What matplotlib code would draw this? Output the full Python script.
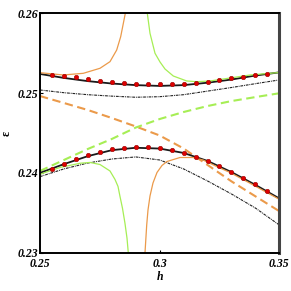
import matplotlib
matplotlib.use("Agg")
import matplotlib.pyplot as plt

# ---- data ----
h_dots = [0.255, 0.26, 0.265, 0.27, 0.275, 0.28, 0.285, 0.29, 0.295, 0.30,
          0.305, 0.31, 0.315, 0.32, 0.325, 0.33, 0.335, 0.34, 0.345]
upper_dots = [0.25227, 0.25214, 0.25198, 0.25177, 0.25155, 0.25135, 0.25123, 0.25114, 0.25110, 0.25110,
              0.25114, 0.25118, 0.25130, 0.25139, 0.25164, 0.25185, 0.25206, 0.25223, 0.25239]
lower_dots = [0.24049, 0.24115, 0.24171, 0.24224, 0.24262, 0.24300, 0.24316, 0.24328, 0.24328, 0.24315,
              0.24287, 0.24253, 0.24203, 0.24153, 0.24090, 0.24015, 0.23933, 0.23861, 0.23773]

h_grid = [0.25, 0.26, 0.27, 0.28, 0.29, 0.30, 0.31, 0.32, 0.33, 0.34, 0.35]
upper_exact = [0.2524, 0.2519, 0.2515, 0.2512, 0.2510, 0.2509, 0.2510, 0.2513, 0.2517, 0.2522, 0.2526]
lower_exact = [0.2400, 0.2411, 0.2421, 0.24285, 0.24315, 0.24305, 0.2425, 0.2415, 0.2401, 0.2385, 0.2368]
upper_dashdot = [0.25039, 0.25005, 0.24980, 0.24962, 0.24948, 0.24955, 0.24980, 0.25025, 0.25070, 0.25118, 0.25165]
lower_dashdot = [0.23953, 0.24050, 0.24124, 0.24174, 0.24200, 0.24162, 0.24050, 0.23899, 0.23736, 0.23560, 0.23347]
orange_dashed = [0.24963, 0.24876, 0.24788, 0.24688, 0.24582, 0.24469, 0.24306, 0.24100, 0.23894, 0.23707, 0.23520]
green_dashed = [0.24024, 0.24162, 0.24300, 0.24425, 0.24568, 0.24675, 0.24763, 0.24838, 0.24900, 0.24950, 0.24998]

# thin perturbative branches
orange_up_h = [0.25, 0.25974, 0.2681, 0.27507, 0.27925, 0.28205, 0.28372, 0.28510, 0.28565]
orange_up_e = [0.25256, 0.25227, 0.25248, 0.25311, 0.25394, 0.25540, 0.25707, 0.25916, 0.26000]
orange_lo_h = [0.29388, 0.29459, 0.29513, 0.29597, 0.29722, 0.29889, 0.30098, 0.30307, 0.30850,
               0.31394, 0.31812, 0.32384, 0.32941, 0.33777, 0.35]
orange_lo_e = [0.23000, 0.23347, 0.23535, 0.23711, 0.23874, 0.24005, 0.24093, 0.24143, 0.24193,
               0.24193, 0.24162, 0.24080, 0.24005, 0.23870, 0.23669]
green_up_h = [0.29484, 0.29597, 0.29806, 0.30015, 0.30224, 0.30571, 0.31131, 0.31549, 0.32105,
              0.32941, 0.33777, 0.35]
green_up_e = [0.26000, 0.25749, 0.25499, 0.25390, 0.25302, 0.25214, 0.25152, 0.25143, 0.25152,
              0.25189, 0.25227, 0.25258]
green_lo_h = [0.25, 0.25836, 0.26672, 0.2709, 0.27507, 0.27925, 0.28134, 0.2826, 0.28343,
              0.28448, 0.2855, 0.28636, 0.28689]
green_lo_e = [0.23983, 0.24068, 0.24121, 0.24131, 0.24105, 0.24024, 0.23918, 0.23830, 0.23705,
              0.23555, 0.23370, 0.23182, 0.23000]

x_ticks = [0.25, 0.30, 0.35]
x_ticklabels = ["0.25", "0.3", "0.35"]
y_ticks = [0.23, 0.24, 0.25, 0.26]
y_ticklabels = ["0.23", "0.24", "0.25", "0.26"]

ORANGE = "#EB9A4A"
GREEN = "#A6EE55"

fig = plt.figure(figsize=(2.91, 2.91), dpi=100)
ax = fig.add_axes([40 / 291, 1 - 252.7 / 291, 239.3 / 291, 239.4 / 291])

ax.plot(h_grid, orange_dashed, color=ORANGE, lw=1.5, dashes=(4, 2.2))
ax.plot(h_grid, green_dashed, color=GREEN, lw=1.5, dashes=(4, 2.2))
ax.plot(h_grid, upper_dashdot, color="#222222", lw=0.8, dashes=(2.5, 0.8, 0.8, 0.8))
ax.plot(h_grid, lower_dashdot, color="#222222", lw=0.8, dashes=(2.5, 0.8, 0.8, 0.8))
ax.plot(h_grid, upper_exact, color="#1a1a1a", lw=1.3)
ax.plot(h_grid, lower_exact, color="#1a1a1a", lw=1.3)
ax.plot(orange_up_h, orange_up_e, color=ORANGE, lw=0.9)
ax.plot(orange_lo_h, orange_lo_e, color=ORANGE, lw=0.9)
ax.plot(green_up_h, green_up_e, color=GREEN, lw=0.9)
ax.plot(green_lo_h, green_lo_e, color=GREEN, lw=0.9)
ax.plot(h_dots, upper_dots, "o", ms=3.2, mfc="#DD0000", mec="#990000", mew=0.4)
ax.plot(h_dots, lower_dots, "o", ms=3.2, mfc="#DD0000", mec="#990000", mew=0.4)

ax.set_xlim(0.25, 0.35)
ax.set_ylim(0.23, 0.26)
tfont = dict(family="Liberation Serif", weight="bold", style="italic", size=8.5)
ax.set_xticks(x_ticks)
ax.set_xticklabels(x_ticklabels, fontdict=tfont)
ax.set_yticks(y_ticks)
ax.set_yticklabels(y_ticklabels, fontdict=tfont)
ax.tick_params(direction="in", length=2, width=0.8, pad=1.5)
ax.tick_params(axis="x", pad=3.5)
ax.set_xlabel("h", fontdict=tfont, labelpad=1)
ax.set_ylabel("\u03b5", fontdict=dict(family="Liberation Serif", weight="bold", size=8.5))
ax.yaxis.set_label_coords(-(40 - 12.5) / 239.3, 0.5)

for s in ["left", "bottom", "top"]:
    ax.spines[s].set_linewidth(1.4)
    ax.spines[s].set_color("black")
ax.spines["right"].set_linewidth(2.2)
ax.spines["right"].set_color("#444444")

fig.savefig("out.png", dpi=100)
